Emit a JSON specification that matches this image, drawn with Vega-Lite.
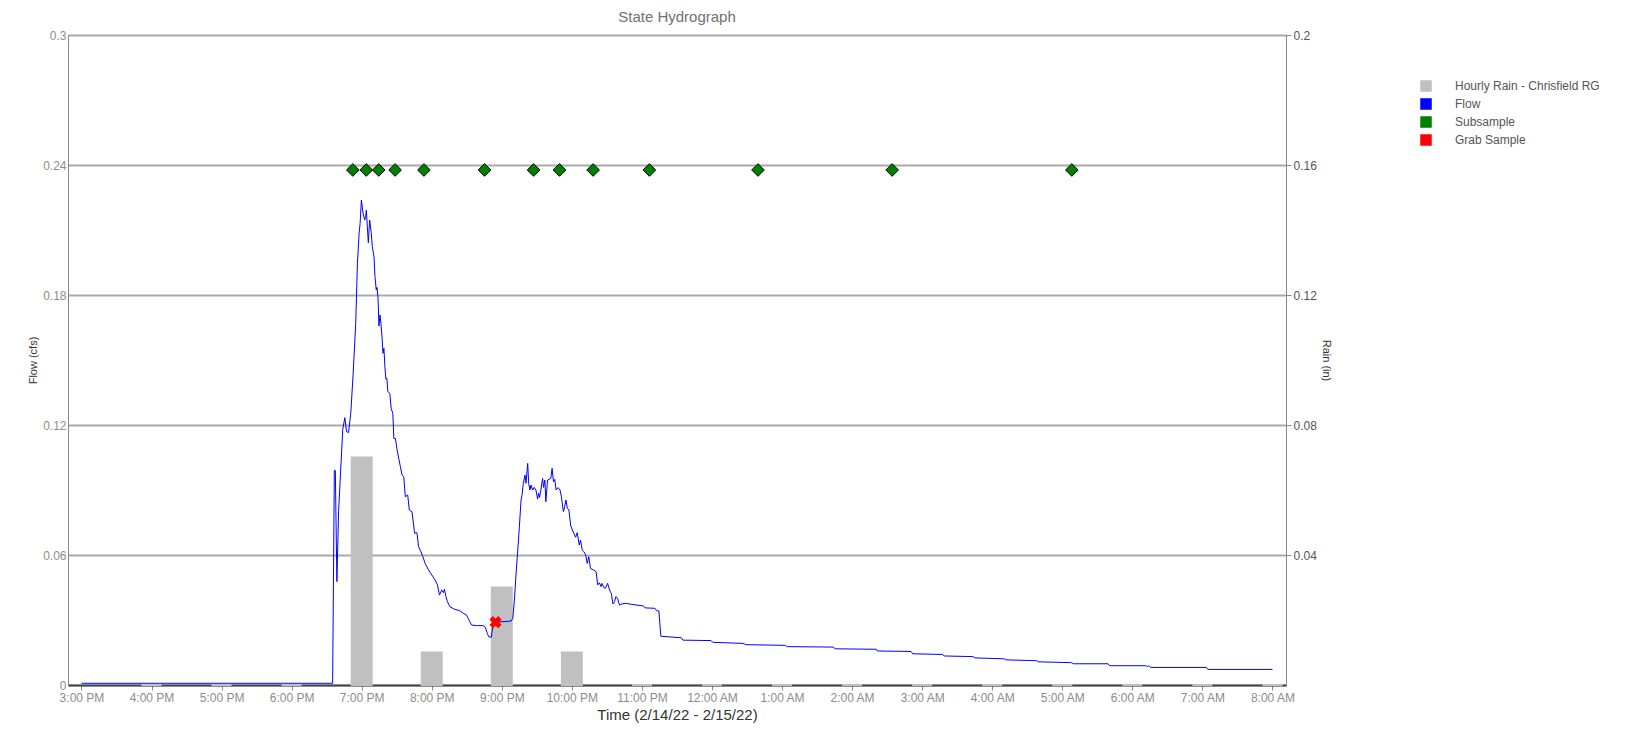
{
  "$schema": "https://vega.github.io/schema/vega-lite/v6.json",
  "width": 1218,
  "height": 650,
  "autosize": "none",
  "padding": {"left": 68, "top": 35, "right": 351, "bottom": 50},
  "title": {"text": "State Hydrograph", "fontSize": 15, "fontWeight": "normal", "color": "#707070"},
  "config": {"view": {"stroke": "#000000"}},
  "datasets": {
    "rain": [
      {"time": "2022-02-14T16:00:00", "rain_in": 0, "series": "Hourly Rain - Chrisfield RG"},
      {"time": "2022-02-14T17:00:00", "rain_in": 0, "series": "Hourly Rain - Chrisfield RG"},
      {"time": "2022-02-14T18:00:00", "rain_in": 0, "series": "Hourly Rain - Chrisfield RG"},
      {"time": "2022-02-14T19:00:00", "rain_in": 0.07, "series": "Hourly Rain - Chrisfield RG"},
      {"time": "2022-02-14T20:00:00", "rain_in": 0.01, "series": "Hourly Rain - Chrisfield RG"},
      {"time": "2022-02-14T21:00:00", "rain_in": 0.03, "series": "Hourly Rain - Chrisfield RG"},
      {"time": "2022-02-14T22:00:00", "rain_in": 0.01, "series": "Hourly Rain - Chrisfield RG"},
      {"time": "2022-02-14T23:00:00", "rain_in": 0, "series": "Hourly Rain - Chrisfield RG"},
      {"time": "2022-02-15T00:00:00", "rain_in": 0, "series": "Hourly Rain - Chrisfield RG"},
      {"time": "2022-02-15T01:00:00", "rain_in": 0, "series": "Hourly Rain - Chrisfield RG"},
      {"time": "2022-02-15T02:00:00", "rain_in": 0, "series": "Hourly Rain - Chrisfield RG"},
      {"time": "2022-02-15T03:00:00", "rain_in": 0, "series": "Hourly Rain - Chrisfield RG"},
      {"time": "2022-02-15T04:00:00", "rain_in": 0, "series": "Hourly Rain - Chrisfield RG"},
      {"time": "2022-02-15T05:00:00", "rain_in": 0, "series": "Hourly Rain - Chrisfield RG"},
      {"time": "2022-02-15T06:00:00", "rain_in": 0, "series": "Hourly Rain - Chrisfield RG"},
      {"time": "2022-02-15T07:00:00", "rain_in": 0, "series": "Hourly Rain - Chrisfield RG"},
      {"time": "2022-02-15T08:00:00", "rain_in": 0, "series": "Hourly Rain - Chrisfield RG"}
    ],
    "flow": [
      {"time": "2022-02-14T15:00:00", "flow": 0.0008, "series": "Flow"},
      {"time": "2022-02-14T18:35:07", "flow": 0.0008, "series": "Flow"},
      {"time": "2022-02-14T18:36:34", "flow": 0.099, "series": "Flow"},
      {"time": "2022-02-14T18:37:25", "flow": 0.099, "series": "Flow"},
      {"time": "2022-02-14T18:38:46", "flow": 0.0477, "series": "Flow"},
      {"time": "2022-02-14T18:40:12", "flow": 0.08, "series": "Flow"},
      {"time": "2022-02-14T18:43:47", "flow": 0.118, "series": "Flow"},
      {"time": "2022-02-14T18:45:34", "flow": 0.1234, "series": "Flow"},
      {"time": "2022-02-14T18:47:00", "flow": 0.117, "series": "Flow"},
      {"time": "2022-02-14T18:48:42", "flow": 0.1165, "series": "Flow"},
      {"time": "2022-02-14T18:50:40", "flow": 0.1254, "series": "Flow"},
      {"time": "2022-02-14T18:52:42", "flow": 0.1438, "series": "Flow"},
      {"time": "2022-02-14T18:54:54", "flow": 0.167, "series": "Flow"},
      {"time": "2022-02-14T18:56:21", "flow": 0.1946, "series": "Flow"},
      {"time": "2022-02-14T18:57:47", "flow": 0.2085, "series": "Flow"},
      {"time": "2022-02-14T18:58:38", "flow": 0.213, "series": "Flow"},
      {"time": "2022-02-14T18:59:45", "flow": 0.2238, "series": "Flow"},
      {"time": "2022-02-14T19:01:11", "flow": 0.2177, "series": "Flow"},
      {"time": "2022-02-14T19:02:33", "flow": 0.2146, "series": "Flow"},
      {"time": "2022-02-14T19:03:24", "flow": 0.2161, "series": "Flow"},
      {"time": "2022-02-14T19:04:00", "flow": 0.2192, "series": "Flow"},
      {"time": "2022-02-14T19:04:50", "flow": 0.2115, "series": "Flow"},
      {"time": "2022-02-14T19:05:41", "flow": 0.2041, "series": "Flow"},
      {"time": "2022-02-14T19:06:48", "flow": 0.2146, "series": "Flow"},
      {"time": "2022-02-14T19:08:14", "flow": 0.2085, "series": "Flow"},
      {"time": "2022-02-14T19:09:05", "flow": 0.2023, "series": "Flow"},
      {"time": "2022-02-14T19:10:32", "flow": 0.1977, "series": "Flow"},
      {"time": "2022-02-14T19:11:23", "flow": 0.1885, "series": "Flow"},
      {"time": "2022-02-14T19:12:29", "flow": 0.1823, "series": "Flow"},
      {"time": "2022-02-14T19:13:05", "flow": 0.1835, "series": "Flow"},
      {"time": "2022-02-14T19:13:56", "flow": 0.1792, "series": "Flow"},
      {"time": "2022-02-14T19:14:47", "flow": 0.1657, "series": "Flow"},
      {"time": "2022-02-14T19:15:38", "flow": 0.1708, "series": "Flow"},
      {"time": "2022-02-14T19:16:29", "flow": 0.167, "series": "Flow"},
      {"time": "2022-02-14T19:17:35", "flow": 0.1592, "series": "Flow"},
      {"time": "2022-02-14T19:18:11", "flow": 0.1531, "series": "Flow"},
      {"time": "2022-02-14T19:19:02", "flow": 0.1554, "series": "Flow"},
      {"time": "2022-02-14T19:19:52", "flow": 0.1469, "series": "Flow"},
      {"time": "2022-02-14T19:20:43", "flow": 0.1411, "series": "Flow"},
      {"time": "2022-02-14T19:21:34", "flow": 0.1415, "series": "Flow"},
      {"time": "2022-02-14T19:22:25", "flow": 0.1354, "series": "Flow"},
      {"time": "2022-02-14T19:24:07", "flow": 0.1346, "series": "Flow"},
      {"time": "2022-02-14T19:25:14", "flow": 0.1277, "series": "Flow"},
      {"time": "2022-02-14T19:26:40", "flow": 0.1254, "series": "Flow"},
      {"time": "2022-02-14T19:27:31", "flow": 0.1138, "series": "Flow"},
      {"time": "2022-02-14T19:28:53", "flow": 0.1138, "series": "Flow"},
      {"time": "2022-02-14T19:30:19", "flow": 0.1085, "series": "Flow"},
      {"time": "2022-02-14T19:33:07", "flow": 0.1008, "series": "Flow"},
      {"time": "2022-02-14T19:34:34", "flow": 0.0969, "series": "Flow"},
      {"time": "2022-02-14T19:36:01", "flow": 0.0962, "series": "Flow"},
      {"time": "2022-02-14T19:37:22", "flow": 0.0869, "series": "Flow"},
      {"time": "2022-02-14T19:39:25", "flow": 0.0877, "series": "Flow"},
      {"time": "2022-02-14T19:40:46", "flow": 0.0808, "series": "Flow"},
      {"time": "2022-02-14T19:43:04", "flow": 0.08, "series": "Flow"},
      {"time": "2022-02-14T19:45:21", "flow": 0.07, "series": "Flow"},
      {"time": "2022-02-14T19:47:18", "flow": 0.0703, "series": "Flow"},
      {"time": "2022-02-14T19:48:45", "flow": 0.0638, "series": "Flow"},
      {"time": "2022-02-14T19:50:42", "flow": 0.0615, "series": "Flow"},
      {"time": "2022-02-14T19:52:24", "flow": 0.0592, "series": "Flow"},
      {"time": "2022-02-14T19:54:21", "flow": 0.0561, "series": "Flow"},
      {"time": "2022-02-14T19:57:14", "flow": 0.0531, "series": "Flow"},
      {"time": "2022-02-14T20:00:02", "flow": 0.0508, "series": "Flow"},
      {"time": "2022-02-14T20:02:50", "flow": 0.0485, "series": "Flow"},
      {"time": "2022-02-14T20:04:53", "flow": 0.0462, "series": "Flow"},
      {"time": "2022-02-14T20:06:35", "flow": 0.0415, "series": "Flow"},
      {"time": "2022-02-14T20:08:32", "flow": 0.0438, "series": "Flow"},
      {"time": "2022-02-14T20:09:59", "flow": 0.0426, "series": "Flow"},
      {"time": "2022-02-14T20:10:50", "flow": 0.0442, "series": "Flow"},
      {"time": "2022-02-14T20:12:11", "flow": 0.0408, "series": "Flow"},
      {"time": "2022-02-14T20:13:23", "flow": 0.0385, "series": "Flow"},
      {"time": "2022-02-14T20:15:35", "flow": 0.0361, "series": "Flow"},
      {"time": "2022-02-14T20:19:50", "flow": 0.0349, "series": "Flow"},
      {"time": "2022-02-14T20:24:05", "flow": 0.0343, "series": "Flow"},
      {"time": "2022-02-14T20:26:58", "flow": 0.0331, "series": "Flow"},
      {"time": "2022-02-14T20:29:46", "flow": 0.0323, "series": "Flow"},
      {"time": "2022-02-14T20:31:13", "flow": 0.0308, "series": "Flow"},
      {"time": "2022-02-14T20:34:01", "flow": 0.0277, "series": "Flow"},
      {"time": "2022-02-14T20:38:16", "flow": 0.0274, "series": "Flow"},
      {"time": "2022-02-14T20:43:57", "flow": 0.0274, "series": "Flow"},
      {"time": "2022-02-14T20:45:54", "flow": 0.0266, "series": "Flow"},
      {"time": "2022-02-14T20:47:36", "flow": 0.0238, "series": "Flow"},
      {"time": "2022-02-14T20:48:43", "flow": 0.0223, "series": "Flow"},
      {"time": "2022-02-14T20:51:00", "flow": 0.022, "series": "Flow"},
      {"time": "2022-02-14T20:52:26", "flow": 0.0277, "series": "Flow"},
      {"time": "2022-02-14T20:55:15", "flow": 0.0288, "series": "Flow"},
      {"time": "2022-02-14T20:59:29", "flow": 0.0292, "series": "Flow"},
      {"time": "2022-02-14T21:07:59", "flow": 0.0295, "series": "Flow"},
      {"time": "2022-02-14T21:09:26", "flow": 0.0308, "series": "Flow"},
      {"time": "2022-02-14T21:10:47", "flow": 0.0392, "series": "Flow"},
      {"time": "2022-02-14T21:12:14", "flow": 0.0515, "series": "Flow"},
      {"time": "2022-02-14T21:13:40", "flow": 0.0623, "series": "Flow"},
      {"time": "2022-02-14T21:15:02", "flow": 0.073, "series": "Flow"},
      {"time": "2022-02-14T21:16:29", "flow": 0.0854, "series": "Flow"},
      {"time": "2022-02-14T21:17:20", "flow": 0.0877, "series": "Flow"},
      {"time": "2022-02-14T21:18:26", "flow": 0.0931, "series": "Flow"},
      {"time": "2022-02-14T21:19:52", "flow": 0.0969, "series": "Flow"},
      {"time": "2022-02-14T21:20:43", "flow": 0.0931, "series": "Flow"},
      {"time": "2022-02-14T21:22:10", "flow": 0.1023, "series": "Flow"},
      {"time": "2022-02-14T21:23:01", "flow": 0.0931, "series": "Flow"},
      {"time": "2022-02-14T21:24:07", "flow": 0.09, "series": "Flow"},
      {"time": "2022-02-14T21:24:58", "flow": 0.0923, "series": "Flow"},
      {"time": "2022-02-14T21:26:25", "flow": 0.09, "series": "Flow"},
      {"time": "2022-02-14T21:27:46", "flow": 0.0912, "series": "Flow"},
      {"time": "2022-02-14T21:29:13", "flow": 0.09, "series": "Flow"},
      {"time": "2022-02-14T21:30:40", "flow": 0.0858, "series": "Flow"},
      {"time": "2022-02-14T21:31:31", "flow": 0.0885, "series": "Flow"},
      {"time": "2022-02-14T21:32:22", "flow": 0.0866, "series": "Flow"},
      {"time": "2022-02-14T21:33:28", "flow": 0.09, "series": "Flow"},
      {"time": "2022-02-14T21:34:55", "flow": 0.0954, "series": "Flow"},
      {"time": "2022-02-14T21:35:46", "flow": 0.0912, "series": "Flow"},
      {"time": "2022-02-14T21:36:52", "flow": 0.0946, "series": "Flow"},
      {"time": "2022-02-14T21:37:43", "flow": 0.0846, "series": "Flow"},
      {"time": "2022-02-14T21:39:09", "flow": 0.0946, "series": "Flow"},
      {"time": "2022-02-14T21:40:31", "flow": 0.0949, "series": "Flow"},
      {"time": "2022-02-14T21:41:57", "flow": 0.0954, "series": "Flow"},
      {"time": "2022-02-14T21:43:04", "flow": 0.1, "series": "Flow"},
      {"time": "2022-02-14T21:44:15", "flow": 0.0938, "series": "Flow"},
      {"time": "2022-02-14T21:45:21", "flow": 0.0949, "series": "Flow"},
      {"time": "2022-02-14T21:46:28", "flow": 0.09, "series": "Flow"},
      {"time": "2022-02-14T21:48:10", "flow": 0.0911, "series": "Flow"},
      {"time": "2022-02-14T21:49:52", "flow": 0.09, "series": "Flow"},
      {"time": "2022-02-14T21:51:02", "flow": 0.0869, "series": "Flow"},
      {"time": "2022-02-14T21:52:44", "flow": 0.08, "series": "Flow"},
      {"time": "2022-02-14T21:53:51", "flow": 0.0823, "series": "Flow"},
      {"time": "2022-02-14T21:54:57", "flow": 0.0854, "series": "Flow"},
      {"time": "2022-02-14T21:56:08", "flow": 0.0815, "series": "Flow"},
      {"time": "2022-02-14T21:57:30", "flow": 0.0808, "series": "Flow"},
      {"time": "2022-02-14T21:58:56", "flow": 0.0738, "series": "Flow"},
      {"time": "2022-02-14T22:00:23", "flow": 0.0715, "series": "Flow"},
      {"time": "2022-02-14T22:01:45", "flow": 0.07, "series": "Flow"},
      {"time": "2022-02-14T22:03:11", "flow": 0.0682, "series": "Flow"},
      {"time": "2022-02-14T22:04:38", "flow": 0.0703, "series": "Flow"},
      {"time": "2022-02-14T22:06:20", "flow": 0.0646, "series": "Flow"},
      {"time": "2022-02-14T22:07:26", "flow": 0.0669, "series": "Flow"},
      {"time": "2022-02-14T22:08:53", "flow": 0.0623, "series": "Flow"},
      {"time": "2022-02-14T22:10:14", "flow": 0.0615, "series": "Flow"},
      {"time": "2022-02-14T22:11:56", "flow": 0.06, "series": "Flow"},
      {"time": "2022-02-14T22:13:07", "flow": 0.0561, "series": "Flow"},
      {"time": "2022-02-14T22:14:29", "flow": 0.0592, "series": "Flow"},
      {"time": "2022-02-14T22:15:56", "flow": 0.0538, "series": "Flow"},
      {"time": "2022-02-14T22:17:22", "flow": 0.0534, "series": "Flow"},
      {"time": "2022-02-14T22:18:44", "flow": 0.0531, "series": "Flow"},
      {"time": "2022-02-14T22:20:46", "flow": 0.0523, "series": "Flow"},
      {"time": "2022-02-14T22:22:08", "flow": 0.0462, "series": "Flow"},
      {"time": "2022-02-14T22:23:34", "flow": 0.0472, "series": "Flow"},
      {"time": "2022-02-14T22:25:01", "flow": 0.0454, "series": "Flow"},
      {"time": "2022-02-14T22:25:52", "flow": 0.0469, "series": "Flow"},
      {"time": "2022-02-14T22:27:13", "flow": 0.0451, "series": "Flow"},
      {"time": "2022-02-14T22:28:40", "flow": 0.0446, "series": "Flow"},
      {"time": "2022-02-14T22:30:37", "flow": 0.0469, "series": "Flow"},
      {"time": "2022-02-14T22:32:19", "flow": 0.0438, "series": "Flow"},
      {"time": "2022-02-14T22:33:46", "flow": 0.0423, "series": "Flow"},
      {"time": "2022-02-14T22:35:12", "flow": 0.0374, "series": "Flow"},
      {"time": "2022-02-14T22:36:34", "flow": 0.0385, "series": "Flow"},
      {"time": "2022-02-14T22:37:45", "flow": 0.0408, "series": "Flow"},
      {"time": "2022-02-14T22:39:07", "flow": 0.04, "series": "Flow"},
      {"time": "2022-02-14T22:40:49", "flow": 0.0369, "series": "Flow"},
      {"time": "2022-02-14T22:42:51", "flow": 0.0374, "series": "Flow"},
      {"time": "2022-02-14T22:45:39", "flow": 0.0377, "series": "Flow"},
      {"time": "2022-02-14T22:51:20", "flow": 0.0372, "series": "Flow"},
      {"time": "2022-02-14T23:01:11", "flow": 0.0365, "series": "Flow"},
      {"time": "2022-02-14T23:02:38", "flow": 0.0356, "series": "Flow"},
      {"time": "2022-02-14T23:11:07", "flow": 0.0354, "series": "Flow"},
      {"time": "2022-02-14T23:12:34", "flow": 0.0343, "series": "Flow"},
      {"time": "2022-02-14T23:14:31", "flow": 0.0342, "series": "Flow"},
      {"time": "2022-02-14T23:16:13", "flow": 0.0225, "series": "Flow"},
      {"time": "2022-02-14T23:33:48", "flow": 0.0218, "series": "Flow"},
      {"time": "2022-02-14T23:35:10", "flow": 0.0207, "series": "Flow"},
      {"time": "2022-02-14T23:59:17", "flow": 0.0205, "series": "Flow"},
      {"time": "2022-02-15T00:00:38", "flow": 0.0197, "series": "Flow"},
      {"time": "2022-02-15T00:26:43", "flow": 0.0192, "series": "Flow"},
      {"time": "2022-02-15T00:29:00", "flow": 0.0186, "series": "Flow"},
      {"time": "2022-02-15T01:02:58", "flow": 0.0183, "series": "Flow"},
      {"time": "2022-02-15T01:04:20", "flow": 0.0177, "series": "Flow"},
      {"time": "2022-02-15T01:43:59", "flow": 0.0175, "series": "Flow"},
      {"time": "2022-02-15T01:45:26", "flow": 0.0167, "series": "Flow"},
      {"time": "2022-02-15T02:20:46", "flow": 0.0165, "series": "Flow"},
      {"time": "2022-02-15T02:21:37", "flow": 0.0157, "series": "Flow"},
      {"time": "2022-02-15T02:50:29", "flow": 0.0155, "series": "Flow"},
      {"time": "2022-02-15T02:51:56", "flow": 0.0144, "series": "Flow"},
      {"time": "2022-02-15T03:17:25", "flow": 0.0141, "series": "Flow"},
      {"time": "2022-02-15T03:18:52", "flow": 0.0134, "series": "Flow"},
      {"time": "2022-02-15T03:43:44", "flow": 0.0131, "series": "Flow"},
      {"time": "2022-02-15T03:45:11", "flow": 0.0125, "series": "Flow"},
      {"time": "2022-02-15T04:10:19", "flow": 0.0121, "series": "Flow"},
      {"time": "2022-02-15T04:11:46", "flow": 0.0116, "series": "Flow"},
      {"time": "2022-02-15T04:38:05", "flow": 0.0112, "series": "Flow"},
      {"time": "2022-02-15T04:39:32", "flow": 0.0107, "series": "Flow"},
      {"time": "2022-02-15T05:07:49", "flow": 0.0103, "series": "Flow"},
      {"time": "2022-02-15T05:09:46", "flow": 0.0098, "series": "Flow"},
      {"time": "2022-02-15T05:39:14", "flow": 0.0098, "series": "Flow"},
      {"time": "2022-02-15T05:40:31", "flow": 0.0089, "series": "Flow"},
      {"time": "2022-02-15T06:11:30", "flow": 0.0089, "series": "Flow"},
      {"time": "2022-02-15T06:12:48", "flow": 0.0085, "series": "Flow"},
      {"time": "2022-02-15T06:14:03", "flow": 0.0089, "series": "Flow"},
      {"time": "2022-02-15T06:15:45", "flow": 0.0081, "series": "Flow"},
      {"time": "2022-02-15T07:03:18", "flow": 0.0081, "series": "Flow"},
      {"time": "2022-02-15T07:04:36", "flow": 0.0072, "series": "Flow"},
      {"time": "2022-02-15T08:00:00", "flow": 0.0072, "series": "Flow"}
    ],
    "subsample": [
      {"time": "2022-02-14T18:52:24", "flow": 0.2377, "series": "Subsample"},
      {"time": "2022-02-14T19:03:54", "flow": 0.2377, "series": "Subsample"},
      {"time": "2022-02-14T19:14:36", "flow": 0.2377, "series": "Subsample"},
      {"time": "2022-02-14T19:28:36", "flow": 0.2377, "series": "Subsample"},
      {"time": "2022-02-14T19:53:18", "flow": 0.2377, "series": "Subsample"},
      {"time": "2022-02-14T20:45:12", "flow": 0.2377, "series": "Subsample"},
      {"time": "2022-02-14T21:27:12", "flow": 0.2377, "series": "Subsample"},
      {"time": "2022-02-14T21:49:24", "flow": 0.2377, "series": "Subsample"},
      {"time": "2022-02-14T22:18:12", "flow": 0.2377, "series": "Subsample"},
      {"time": "2022-02-14T23:06:24", "flow": 0.2377, "series": "Subsample"},
      {"time": "2022-02-15T00:39:24", "flow": 0.2377, "series": "Subsample"},
      {"time": "2022-02-15T02:34:18", "flow": 0.2377, "series": "Subsample"},
      {"time": "2022-02-15T05:08:12", "flow": 0.2377, "series": "Subsample"}
    ],
    "grab": [
      {"time": "2022-02-14T20:54:39", "flow": 0.029, "series": "Grab Sample"}
    ]
  },
  "layer": [
    {
      "data": {"name": "rain"},
      "mark": {"type": "bar", "size": 20, "stroke": "#c0c0c0", "strokeWidth": 2},
      "encoding": {
        "x": {
          "field": "time",
          "type": "temporal",
          "scale": {
            "domain": [
              {"year": 2022, "month": 2, "date": 14, "hours": 14, "minutes": 52, "seconds": 45},
              {"year": 2022, "month": 2, "date": 15, "hours": 8, "minutes": 7, "seconds": 20}
            ]
          },
          "axis": {
            "title": "Time (2/14/22 - 2/15/22)",
            "titleFontSize": 15,
            "titleFontWeight": "normal",
            "titleColor": "#333333",
            "format": "%-I:%M %p",
            "tickCount": 17,
            "labelFontSize": 12,
            "labelColor": "#8c8c8c",
            "domainColor": "#444444",
            "domainWidth": 2,
            "grid": false
          }
        },
        "y": {
          "field": "rain_in",
          "type": "quantitative",
          "scale": {"domain": [0, 0.2], "nice": false},
          "axis": {
            "orient": "right",
            "title": "Rain (in)",
            "values": [0.04, 0.08, 0.12, 0.16, 0.2],
            "format": ".2",
            "labelFontSize": 12,
            "labelColor": "#555555",
            "titleFontSize": 11,
            "titleFontWeight": "normal",
            "titleColor": "#333333",
            "grid": false
          }
        },
        "color": {
          "field": "series",
          "type": "nominal",
          "scale": {
            "domain": ["Hourly Rain - Chrisfield RG", "Flow", "Subsample", "Grab Sample"],
            "range": ["#c0c0c0", "#0000ff", "#008000", "#ff0000"]
          },
          "legend": {
            "orient": "none",
            "legendX": 1352,
            "legendY": 45,
            "title": null,
            "labelOffset": 23,
            "labelFontSize": 12,
            "labelColor": "#555555"
          }
        }
      }
    },
    {
      "layer": [
        {
          "data": {"name": "flow"},
          "mark": {"type": "line", "strokeWidth": 1},
          "encoding": {
            "x": {"field": "time", "type": "temporal"},
            "y": {
              "field": "flow",
              "type": "quantitative",
              "scale": {"domain": [0, 0.3], "nice": false},
              "axis": {
                "orient": "left",
                "title": "Flow (cfs)",
                "values": [0, 0.06, 0.12, 0.18, 0.24, 0.3],
                "format": ".2",
                "ticks": false,
                "grid": true,
                "gridColor": "#aaaaaa",
                "gridWidth": 2,
                "labelFontSize": 12,
                "labelColor": "#8c8c8c",
                "titleFontSize": 11,
                "titleFontWeight": "normal",
                "titleColor": "#333333"
              }
            },
            "color": {"field": "series", "type": "nominal"}
          }
        },
        {
          "data": {"name": "subsample"},
          "mark": {"type": "point", "shape": "diamond", "size": 160, "filled": true, "stroke": "#000000", "strokeWidth": 1, "opacity": 1},
          "encoding": {
            "x": {"field": "time", "type": "temporal"},
            "y": {"field": "flow", "type": "quantitative"},
            "color": {"field": "series", "type": "nominal"}
          }
        },
        {
          "data": {"name": "grab"},
          "mark": {"type": "point", "shape": "cross", "angle": 45, "size": 150, "filled": true, "opacity": 1},
          "encoding": {
            "x": {"field": "time", "type": "temporal"},
            "y": {"field": "flow", "type": "quantitative"},
            "color": {"field": "series", "type": "nominal"}
          }
        }
      ]
    }
  ],
  "resolve": {"scale": {"y": "independent"}}
}
